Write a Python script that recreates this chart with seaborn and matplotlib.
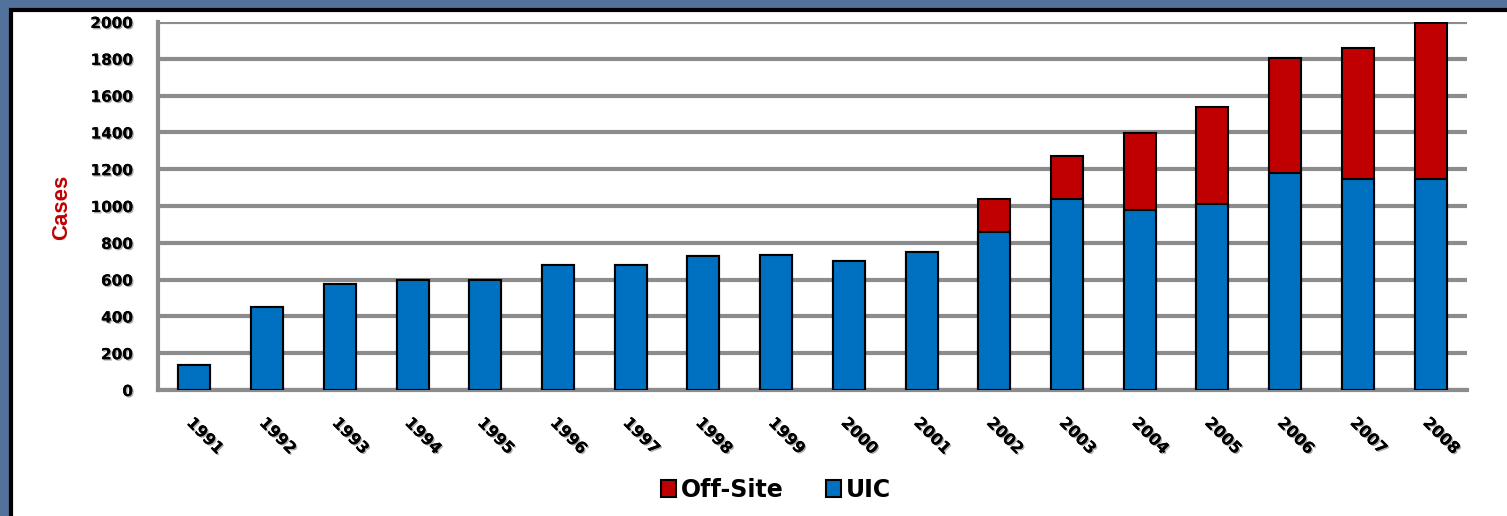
# Cases by year, UIC vs Off-Site (stacked bars)

import numpy as np
import pandas as pd
import matplotlib
matplotlib.use("Agg")
import matplotlib.pyplot as plt
import matplotlib.patheffects as pe
from matplotlib.patches import Rectangle, Patch
import seaborn as sns

years = [str(y) for y in range(1991, 2009)]
uic = [135, 450, 575, 600, 600, 680, 680, 730, 735, 700, 750,
       860, 1040, 980, 1010, 1180, 1145, 1145]
off_site = [0, 0, 0, 0, 0, 0, 0, 0, 0, 0, 0,
            180, 230, 415, 530, 625, 715, 850]
y_ticks = list(range(0, 2001, 200))

red = "#C00000"
blue = "#0070C0"
grid_grey = "#8C8C8C"

df = pd.DataFrame({"Year": years, "UIC": uic, "Off-Site": off_site})
df["Total"] = df["UIC"] + df["Off-Site"]

sns.set_style("white")
plt.rcParams["font.family"] = ["DejaVu Sans"]
plt.rcParams["text.color"] = "black"
plt.rcParams["xtick.color"] = "black"
plt.rcParams["ytick.color"] = "black"

fig = plt.figure(figsize=(15.07, 5.16), dpi=100)
fig.patch.set_facecolor("#52719B")
# white panel with black top/left edge, like the slide frame
fig.patches.append(Rectangle((11 / 1507, -0.01), 1.0, 1.01 - 10 / 516, transform=fig.transFigure,
                             facecolor="white", edgecolor="black", linewidth=3, zorder=-5))

ax = fig.add_axes([158 / 1507, 1 - 390 / 516, (1467 - 158) / 1507, (390 - 22) / 516])
ax.set_zorder(2)
ax.set_facecolor("white")

sns.barplot(data=df, x="Year", y="Total", color=red, width=0.44, saturation=1,
            edgecolor="black", linewidth=1.5, ax=ax, zorder=3)
sns.barplot(data=df, x="Year", y="UIC", color=blue, width=0.44, saturation=1,
            edgecolor="black", linewidth=1.5, ax=ax, zorder=4)

ax.set_xlim(-0.5, len(years) - 0.5)
ax.set_ylim(0, 2000)
ax.set_yticks(y_ticks)
ax.yaxis.grid(True, color=grid_grey, linewidth=3, zorder=1)
ax.set_axisbelow(True)

for side in ["top", "right"]:
    ax.spines[side].set_visible(False)
for side in ["left", "bottom"]:
    ax.spines[side].set_color(grid_grey)
    ax.spines[side].set_linewidth(3)

shadow = [pe.withSimplePatchShadow(offset=(1, -1), shadow_rgbFace="#999999", alpha=0.8), pe.Normal()]

ax.set_xticks(np.arange(-0.5, len(years), 1.0), minor=True)
ax.tick_params(axis="x", which="minor", length=8, width=2, color=grid_grey)
ax.tick_params(axis="x", which="major", length=0, pad=18)
ax.tick_params(axis="y", length=6, width=2, color=grid_grey, pad=12)

ax.set_xticks(range(len(years)))
ax.set_xticklabels(years, rotation=-45, ha="left", rotation_mode="anchor",
                   fontsize=11.5, fontweight="bold", color="black", path_effects=shadow)
for lbl in ax.get_yticklabels():
    lbl.set_fontsize(11)
    lbl.set_fontweight("bold")
    lbl.set_color("black")
    lbl.set_path_effects(shadow)

ax.set_xlabel("")
ax.set_ylabel("")
fig.text(62 / 1507, 1 - 207 / 516, "Cases", rotation=90, color=red, fontsize=16,
         fontweight="bold", family=["Liberation Sans"], ha="center", va="center")

handles = [Patch(facecolor=red, edgecolor="black", linewidth=1.5, label="Off-Site"),
           Patch(facecolor=blue, edgecolor="black", linewidth=1.5, label="UIC")]
fig.legend(handles=handles, loc="center", bbox_to_anchor=(776 / 1507, 1 - 490 / 516),
           ncol=2, frameon=False, handlelength=0.65, handleheight=0.75, handletextpad=0.2,
           columnspacing=1.8, labelcolor="black", prop={"weight": "bold", "size": 17})

fig.savefig("out.png", dpi=100, facecolor=fig.get_facecolor())
